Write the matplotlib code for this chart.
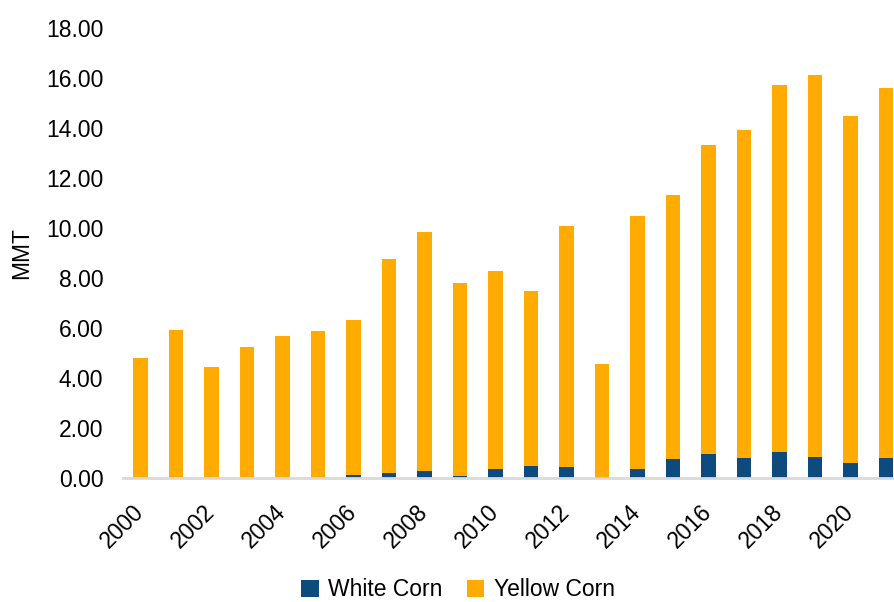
import matplotlib
matplotlib.use("Agg")
import matplotlib.pyplot as plt
import numpy as np

years = list(range(2000, 2022))
total = [4.80, 5.92, 4.44, 5.24, 5.68, 5.88, 6.32, 8.76, 9.84, 7.80, 8.28,
         7.48, 10.08, 4.55, 10.47, 11.32, 13.33, 13.92, 15.72, 16.12, 14.48, 15.60]
white_corn = [0.0, 0.0, 0.0, 0.0, 0.0, 0.0, 0.12, 0.20, 0.28, 0.10, 0.38,
              0.50, 0.45, 0.05, 0.38, 0.75, 0.98, 0.79, 1.03, 0.86, 0.59, 0.79]
yellow_corn = [t - w for t, w in zip(total, white_corn)]

plt.rcParams['font.family'] = ['Liberation Sans', 'DejaVu Sans']

fig = plt.figure(figsize=(8.95, 6.02), dpi=100)
# axes intentionally runs past the right edge (the reference is cropped)
ax = fig.add_axes([122.75 / 895, 124 / 602, 781 / 895, 450 / 602])

x = np.arange(len(years))
ax.bar(x, white_corn, width=0.42, color='#0D4A7E', label='White Corn')
ax.bar(x, yellow_corn, width=0.42, bottom=white_corn, color='#FFAB00',
       label='Yellow Corn')

ax.set_xlim(-0.5, len(years) - 0.5)
ax.set_ylim(0, 18)
ax.set_yticks(np.arange(0, 19, 2))
ax.set_yticklabels(['%.2f' % v for v in np.arange(0, 19, 2)], fontsize=16.5)
ax.set_xticks(x[::2])
ax.set_xticklabels([str(y) for y in years[::2]], fontsize=16.5, rotation=45,
                   ha='right', va='center', rotation_mode='anchor')
ax.tick_params(axis='both', length=0)
ax.tick_params(axis='x', pad=22)
ax.tick_params(axis='y', pad=14)

for s in ['top', 'right', 'left']:
    ax.spines[s].set_visible(False)
ax.spines['bottom'].set_color('#D9D9D9')
ax.spines['bottom'].set_linewidth(2)

fig.text(22 / 895, 1 - 253 / 602, 'MMT', rotation=90, fontsize=16.5,
         ha='center', va='center')

fig.legend(loc='center', bbox_to_anchor=(458 / 895, 1 - 590 / 602), ncol=2,
           frameon=False, fontsize=16.5, handlelength=0.75, handleheight=0.75,
           handletextpad=0.4, columnspacing=1.1)

fig.savefig('out.png', dpi=100)
